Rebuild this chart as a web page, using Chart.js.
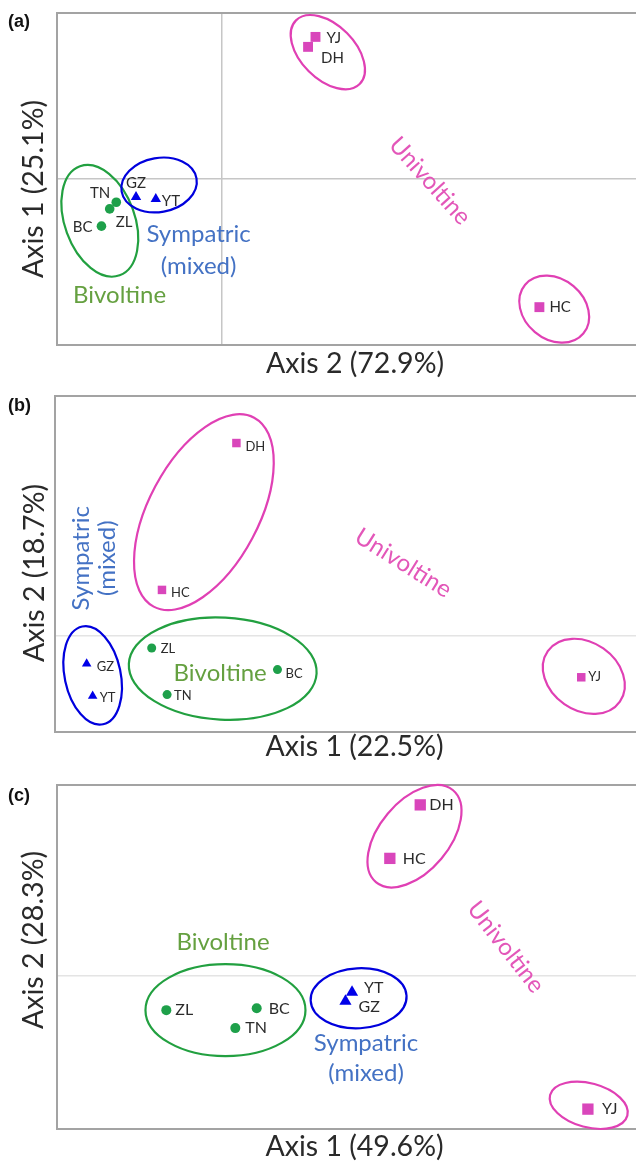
<!DOCTYPE html>
<html>
<head>
<meta charset="utf-8">
<title>PCoA of populations</title>
<script src="https://cdn.jsdelivr.net/npm/chart.js@4.4.1/dist/chart.umd.min.js"></script>
<style>
  html, body { margin: 0; padding: 0; background: #fff; overflow: hidden; }
  #page { position: relative; width: 636px; height: 1162px; overflow: hidden; }
  #page canvas { position: absolute; left: 0; display: block; }
  .tag { position: absolute; left: 8px; font: bold 18px/18px "Liberation Sans", Arial, sans-serif; color: #111; }
</style>
</head>
<body>
<div id="page">
  <canvas id="chart-a" width="660" height="380" style="top:0"></canvas>
  <canvas id="chart-b" width="660" height="380" style="top:380px"></canvas>
  <canvas id="chart-c" width="660" height="402" style="top:760px"></canvas>
  <div class="tag" style="top:12px">(a)</div>
  <div class="tag" style="top:396px">(b)</div>
  <div class="tag" style="top:786px">(c)</div>
</div>
<script>
'use strict'

// **** DATA ****
const popNames  = ['YJ', 'DH', 'HC', 'TN', 'ZL', 'BC', 'GZ', 'YT'];
const popGroups = ['Univoltine', 'Univoltine', 'Univoltine', 'Bivoltine', 'Bivoltine', 'Bivoltine', 'Sympatric', 'Sympatric'];

// (a) x = Axis 2, y = Axis 1
const scoresAX = [0.114, 0.105, 0.386, -0.128, -0.136, -0.146, -0.104, -0.080];
const scoresAY = [0.214, 0.199, -0.193, -0.035, -0.045, -0.071, -0.027, -0.030];
// (b) x = Axis 1, y = Axis 2
const scoresBX = [0.415, 0.012, -0.075, -0.069, -0.087, 0.060, -0.163, -0.156];
const scoresBY = [-0.043, 0.201, 0.048, -0.061, -0.0125, -0.035, -0.029, -0.0625];
// (c) x = Axis 1, y = Axis 2
const scoresCX = [0.446, 0.242, 0.205, 0.017, -0.067, 0.043, 0.151, 0.159];
const scoresCY = [-0.174, 0.224, 0.154, -0.068, -0.0445, -0.042, -0.033, -0.021];

const titlesA = ['Axis 2 (72.9%)', 'Axis 1 (25.1%)'];
const titlesB = ['Axis 1 (22.5%)', 'Axis 2 (18.7%)'];
const titlesC = ['Axis 1 (49.6%)', 'Axis 2 (28.3%)'];

// [xMin, xMax, yMin, yMax]
const rangeA = [-0.2, 0.524, -0.25, 0.25];
const rangeB = [-0.2, 0.5, -0.1, 0.25];
const rangeC = [-0.2, 0.524, -0.2, 0.25];

// **** STYLES ****
const groupStyle = {
  Univoltine: { fill: '#d946bb', ring: '#e040b4', text: '#e357b9', shape: 'rect' },
  Bivoltine:  { fill: '#1ea04a', ring: '#22a040', text: '#65a040', shape: 'circle' },
  Sympatric:  { fill: '#0000e8', ring: '#0000dd', text: '#4472c4', shape: 'triangle' }
};
const groupOrder = ['Univoltine', 'Bivoltine', 'Sympatric'];
const fontFamily = 'Lato, "Open Sans", sans-serif';

const panels = [
  {
    canvas: 'chart-a', xs: scoresAX, ys: scoresAY, range: rangeA, titles: titlesA,
    pad: { left: 57, top: 13, right: 2, bottom: 35 },
    zeroX: true, zeroY: true, zeroColor: '#c6c6c6',
    radius: { rect: 7, circle: 4.8, triangle: 6 },
    labelSize: 15,
    xTitleGap: 16, yTitleX: 34, yTitleShift: 10,
    labelPos: { YJ: [11, 1, 'left'], DH: [13, 11, 'left'], HC: [10, 0, 'left'], TN: [-6, -9, 'right'],
                ZL: [6, 13, 'left'], BC: [-9, 1, 'right'], GZ: [0, -14, 'center'], YT: [6, 2, 'left'] },
    rings: [
      { group: 'Bivoltine', x: -0.148, y: -0.063, rx: 35, ry: 58, rot: -20 },
      { group: 'Sympatric', x: -0.076, y: -0.009, rx: 38, ry: 27, rot: -10 },
      { group: 'Univoltine', x: 0.129, y: 0.191, rx: 45, ry: 27, rot: 45 },
      { group: 'Univoltine', x: 0.404, y: -0.196, rx: 38, ry: 30, rot: 40 }
    ],
    notes: [
      { group: 'Univoltine', x: 0.253, y: -0.003, rot: 48, gap: 0, lines: ['Univoltine'] },
      { group: 'Sympatric', x: -0.028, y: -0.108, rot: 0, gap: 32, lines: ['Sympatric', '(mixed)'] },
      { group: 'Bivoltine', x: -0.124, y: -0.175, rot: 0, gap: 0, lines: ['Bivoltine'] }
    ]
  },
  {
    canvas: 'chart-b', xs: scoresBX, ys: scoresBY, range: rangeB, titles: titlesB,
    pad: { left: 55, top: 16, right: 0, bottom: 28 },
    zeroX: false, zeroY: true, zeroColor: '#e4e4e4',
    radius: { rect: 6, circle: 4.5, triangle: 5.5 },
    labelSize: 13,
    xTitleGap: 13, yTitleX: 35, yTitleShift: 9,
    labelPos: { YJ: [7, 0, 'left'], DH: [9, 4, 'left'], HC: [9, 3, 'left'], TN: [7, 1, 'left'],
                ZL: [9, 1, 'left'], BC: [8, 4, 'left'], GZ: [10, 3, 'left'], YT: [7, 2, 'left'] },
    rings: [
      { group: 'Univoltine', x: -0.026, y: 0.129, rx: 55, ry: 107, rot: 28 },
      { group: 'Sympatric', x: -0.156, y: -0.041, rx: 28, ry: 50, rot: -12 },
      { group: 'Bivoltine', x: -0.004, y: -0.034, rx: 94, ry: 51, rot: 3 },
      { group: 'Univoltine', x: 0.418, y: -0.042, rx: 44, ry: 34, rot: 35 }
    ],
    notes: [
      { group: 'Univoltine', x: 0.207, y: 0.076, rot: 32, gap: 0, lines: ['Univoltine'] },
      { group: 'Sympatric', x: -0.154, y: 0.081, rot: -90, gap: 26, lines: ['Sympatric', '(mixed)'] },
      { group: 'Bivoltine', x: -0.007, y: -0.0385, rot: 0, gap: 0, lines: ['Bivoltine'] }
    ]
  },
  {
    canvas: 'chart-c', xs: scoresCX, ys: scoresCY, range: rangeC, titles: titlesC,
    pad: { left: 57, top: 25, right: 2, bottom: 33 },
    zeroX: false, zeroY: true, zeroColor: '#e4e4e4',
    radius: { rect: 8, circle: 5, triangle: 7 },
    labelSize: 16,
    xTitleGap: 15, yTitleX: 34, yTitleShift: -17,
    labelPos: { YJ: [14, 0, 'left'], DH: [9, 0, 'left'], HC: [13, 0, 'left'], TN: [10, 0, 'left'],
                ZL: [9, 0, 'left'], BC: [12, 1, 'left'], GZ: [13, 6, 'left'], YT: [12, -4, 'left'] },
    rings: [
      { group: 'Univoltine', x: 0.235, y: 0.183, rx: 35, ry: 60, rot: 40 },
      { group: 'Bivoltine', x: 0.005, y: -0.0445, rx: 80, ry: 46, rot: 0 },
      { group: 'Sympatric', x: 0.167, y: -0.029, rx: 48, ry: 30, rot: -3 },
      { group: 'Univoltine', x: 0.447, y: -0.169, rx: 40, ry: 22, rot: 15 }
    ],
    notes: [
      { group: 'Bivoltine', x: 0.002, y: 0.0445, rot: 0, gap: 0, lines: ['Bivoltine'] },
      { group: 'Sympatric', x: 0.176, y: -0.107, rot: 0, gap: 30, lines: ['Sympatric', '(mixed)'] },
      { group: 'Univoltine', x: 0.346, y: 0.038, rot: 52, gap: 0, lines: ['Univoltine'] }
    ]
  }
];

// **** HELPERS ****

function buildDatasets(panel) {
  return groupOrder.map(group => {
    let style = groupStyle[group];
    let points = [];
    for (let i = 0; i < popNames.length; i++) {
      if (popGroups[i] === group) {
        points.push({ x: panel.xs[i], y: panel.ys[i], name: popNames[i] });
      }
    }
    return {
      label: group,
      data: points,
      pointStyle: style.shape,
      pointRadius: panel.radius[style.shape],
      pointHoverRadius: panel.radius[style.shape],
      backgroundColor: style.fill,
      borderColor: style.fill,
      borderWidth: 0
    };
  });
}

// frame, group ellipses, group names, population labels, axis titles
function pcoaPlugin(panel) {
  return {
    id: 'pcoa',
    beforeDatasetsDraw(chart) {
      const { ctx, chartArea: a, scales: { x, y } } = chart;
      ctx.save();
      ctx.strokeStyle = '#a3a3a3';
      ctx.lineWidth = 2;
      ctx.strokeRect(a.left, a.top, a.right - a.left, a.bottom - a.top);

      ctx.lineWidth = 2.2;
      panel.rings.forEach(r => {
        ctx.strokeStyle = groupStyle[r.group].ring;
        ctx.beginPath();
        ctx.ellipse(x.getPixelForValue(r.x), y.getPixelForValue(r.y), r.rx, r.ry,
          r.rot * Math.PI / 180, 0, 2 * Math.PI);
        ctx.stroke();
      });

      ctx.font = `24px ${fontFamily}`;
      ctx.textAlign = 'center';
      ctx.textBaseline = 'middle';
      panel.notes.forEach(n => {
        ctx.save();
        ctx.fillStyle = groupStyle[n.group].text;
        ctx.translate(x.getPixelForValue(n.x), y.getPixelForValue(n.y));
        ctx.rotate(n.rot * Math.PI / 180);
        let first = -(n.lines.length - 1) * n.gap / 2;
        n.lines.forEach((line, k) => ctx.fillText(line, 0, first + k * n.gap));
        ctx.restore();
      });
      ctx.restore();
    },
    afterDatasetsDraw(chart) {
      const { ctx } = chart;
      ctx.save();
      ctx.font = `${panel.labelSize}px ${fontFamily}`;
      ctx.fillStyle = '#2b2b2b';
      ctx.textBaseline = 'middle';
      chart.data.datasets.forEach((ds, i) => {
        chart.getDatasetMeta(i).data.forEach((pt, j) => {
          let name = ds.data[j].name;
          let pos = panel.labelPos[name];
          ctx.textAlign = pos[2];
          ctx.fillText(name, pt.x + pos[0], pt.y + pos[1]);
        });
      });
      ctx.restore();
    },
    afterDraw(chart) {
      const { ctx, chartArea: a } = chart;
      ctx.save();
      ctx.font = `28.5px ${fontFamily}`;
      ctx.fillStyle = '#2a2a2a';
      ctx.textAlign = 'center';
      ctx.textBaseline = 'middle';
      ctx.fillText(panel.titles[0], (a.left + a.right) / 2, chart.height - panel.xTitleGap);
      ctx.translate(panel.yTitleX, (a.top + a.bottom) / 2 + panel.yTitleShift);
      ctx.rotate(-Math.PI / 2);
      ctx.fillText(panel.titles[1], 0, 0);
      ctx.restore();
    }
  };
}

function renderPanel(panel) {
  const zeroOnly = axis => { axis.ticks = [{ value: 0 }]; };
  const config = {
    type: 'scatter',
    data: { datasets: buildDatasets(panel) },
    options: {
      responsive: false,
      animation: false,
      events: [],
      layout: { padding: { left: 0, top: panel.pad.top, right: panel.pad.right, bottom: 0 } },
      plugins: {
        legend: { display: false },
        tooltip: { enabled: false }
      },
      scales: {
        x: {
          type: 'linear',
          min: panel.range[0],
          max: panel.range[1],
          ticks: { display: false },
          grid: { display: panel.zeroX, color: panel.zeroColor, lineWidth: 1.5, drawTicks: false },
          border: { display: false },
          afterBuildTicks: zeroOnly,
          afterFit: axis => { axis.height = panel.pad.bottom; }
        },
        y: {
          type: 'linear',
          min: panel.range[2],
          max: panel.range[3],
          ticks: { display: false },
          grid: { display: panel.zeroY, color: panel.zeroColor, lineWidth: 1.5, drawTicks: false },
          border: { display: false },
          afterBuildTicks: zeroOnly,
          afterFit: axis => { axis.width = panel.pad.left; }
        }
      }
    },
    plugins: [pcoaPlugin(panel)]
  };
  return new Chart(document.getElementById(panel.canvas), config);
}

// **** EXECUTABLE CODE ****
panels.forEach(renderPanel);
</script>
</body>
</html>
